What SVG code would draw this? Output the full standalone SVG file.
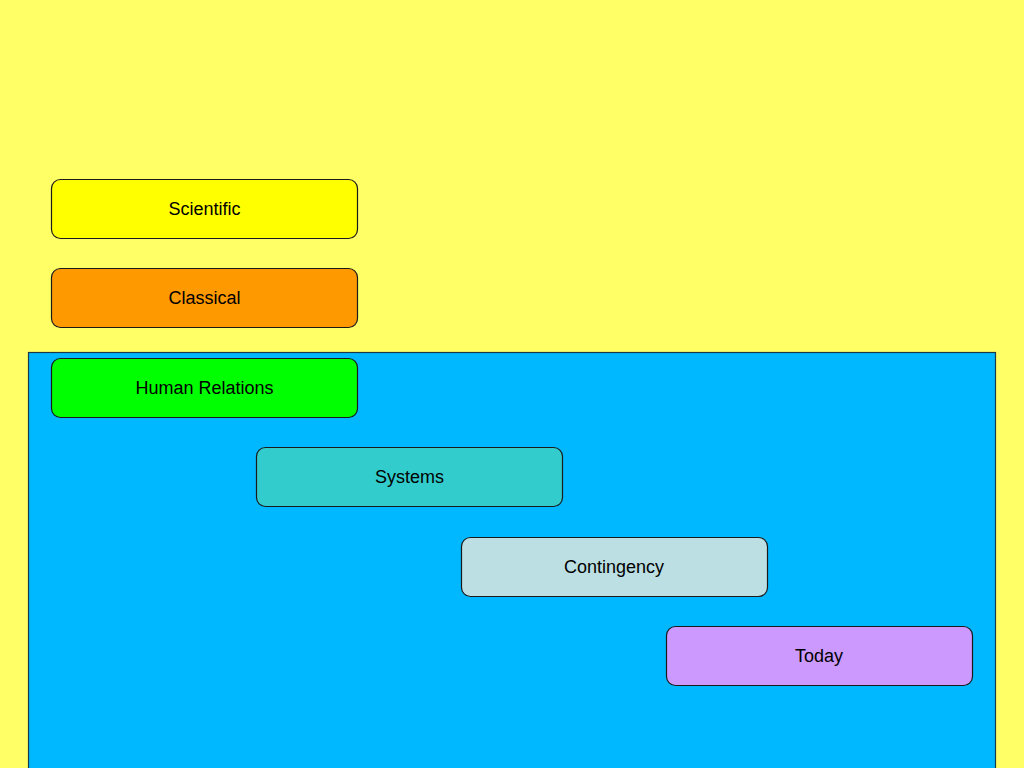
<svg xmlns="http://www.w3.org/2000/svg" width="1024" height="768" viewBox="0 0 1024 768">
<style>
.box{stroke:#1a1a1a;stroke-width:1.2}
.lbl{font-family:"Liberation Sans",Arial,sans-serif;font-size:18px;fill:#000;text-anchor:middle;dominant-baseline:central}
</style>
<rect x="0" y="0" width="1024" height="768" fill="#FFFF66"/>
<g id="era-panel"><rect x="28.5" y="352.5" width="967" height="420" fill="#00B8FF" stroke="#1a3a4a" stroke-width="1.2"/></g>
<g id="connectors"></g>
<g id="scientific"><rect class="box" x="51.5" y="179.5" width="306" height="59" rx="9" fill="#FFFF00"/><text class="lbl" x="204.5" y="209">Scientific</text></g>
<g id="classical"><rect class="box" x="51.5" y="268.5" width="306" height="59" rx="9" fill="#FF9900"/><text class="lbl" x="204.5" y="298">Classical</text></g>
<g id="human-relations"><rect class="box" x="51.5" y="358.5" width="306" height="59" rx="9" fill="#00FF00"/><text class="lbl" x="204.5" y="388">Human Relations</text></g>
<g id="systems"><rect class="box" x="256.5" y="447.5" width="306" height="59" rx="9" fill="#33CCCC"/><text class="lbl" x="409.5" y="477">Systems</text></g>
<g id="contingency"><rect class="box" x="461.5" y="537.5" width="306" height="59" rx="9" fill="#BBDFE3"/><text class="lbl" x="614" y="567">Contingency</text></g>
<g id="today"><rect class="box" x="666.5" y="626.5" width="306" height="59" rx="9" fill="#CC99FF"/><text class="lbl" x="819" y="656">Today</text></g>
</svg>
